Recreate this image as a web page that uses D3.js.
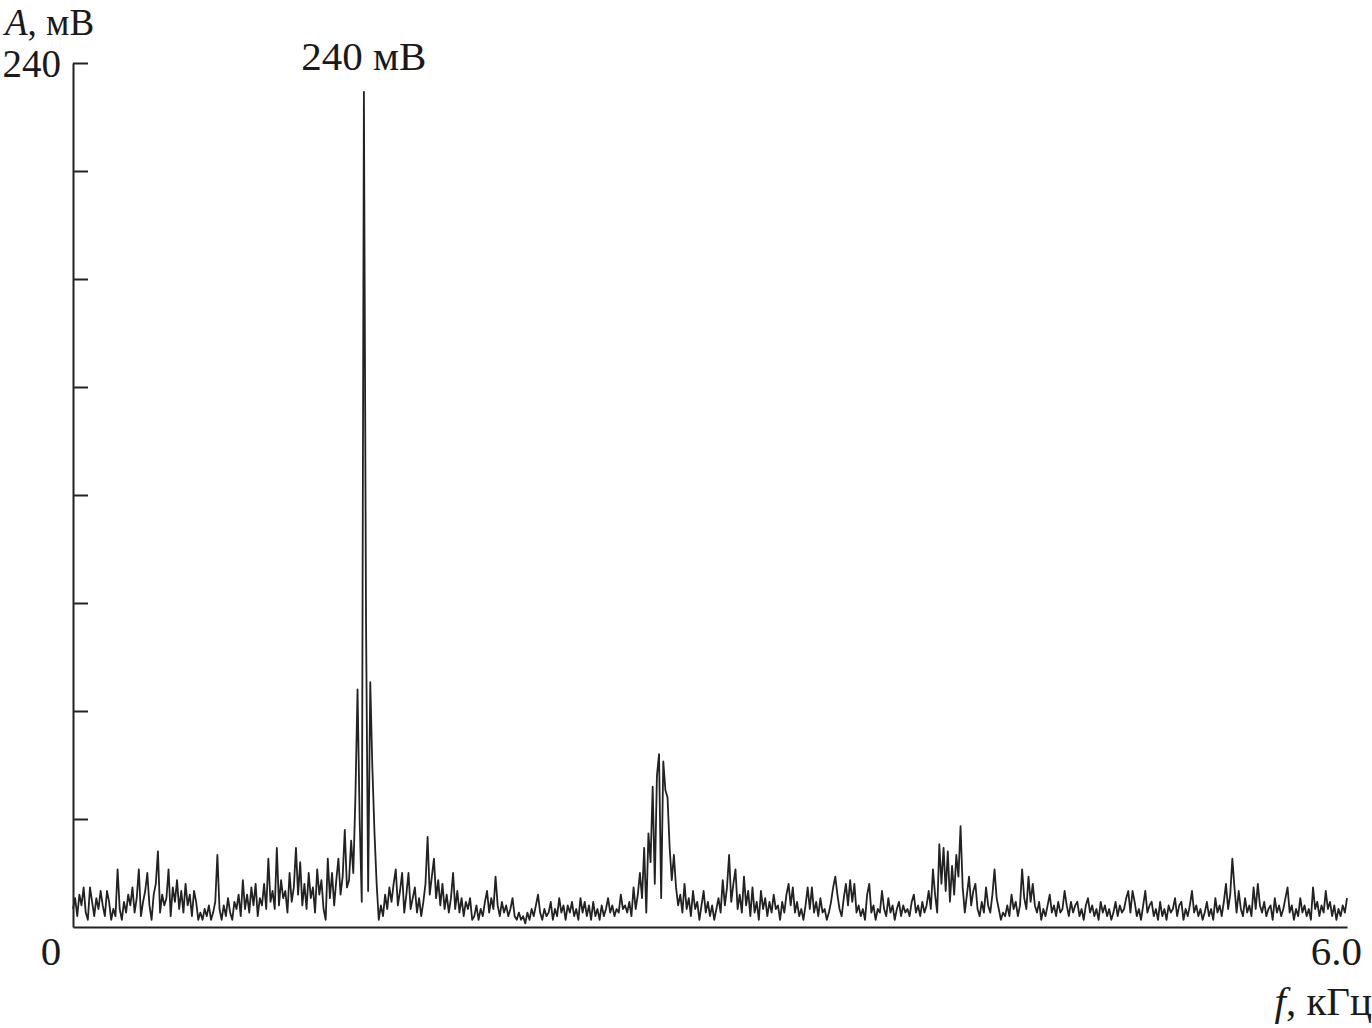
<!DOCTYPE html>
<html>
<head>
<meta charset="utf-8">
<script src="https://cdn.jsdelivr.net/npm/d3@7"></script>
<style>
  body { margin: 0; background: #fff; }
  svg text { font-family: "Liberation Serif", "Times New Roman", serif; fill: #1a1a1a; }
</style>
</head>
<body>
<div id="chart"></div>
<script>
// data: amplitude spectrum, mV, one value every 0.01 kHz from 0 to 6.0 kHz
var fStep = 0.01;
var amplitude = [
  5, 8, 3, 9, 6, 11, 4, 2, 11, 7, 3, 8, 5, 10, 6, 3, 10, 7, 2, 5,
  3, 16, 5, 2, 7, 4, 9, 6, 11, 4, 8, 16, 3, 7, 10, 15, 6, 2, 9, 12,
  21, 4, 9, 6, 8, 16, 3, 11, 7, 13, 5, 10, 4, 12, 6, 9, 3, 10, 7, 2,
  4, 2, 5, 3, 6, 2, 4, 7, 20, 5, 2, 6, 3, 8, 4, 2, 7, 5, 9, 3,
  13, 5, 9, 4, 11, 6, 12, 3, 8, 6, 12, 5, 19, 7, 10, 5, 22, 6, 13, 8,
  10, 4, 15, 7, 11, 22, 9, 18, 6, 12, 5, 15, 8, 11, 4, 16, 9, 13, 5, 2,
  19, 8, 15, 6, 13, 19, 9, 14, 27, 11, 13, 24, 15, 36, 66, 30, 7, 232, 85, 10,
  68, 44, 26, 12, 2, 6, 3, 9, 5, 11, 7, 12, 16, 6, 10, 15, 4, 9, 15, 5,
  8, 11, 4, 8, 3, 7, 12, 25, 9, 14, 19, 8, 13, 6, 12, 5, 9, 4, 8, 15,
  5, 10, 4, 8, 3, 7, 5, 8, 2, 3, 6, 2, 5, 3, 7, 10, 4, 8, 5, 14,
  6, 3, 7, 4, 6, 3, 5, 8, 3, 2, 4, 2, 3, 1, 4, 2, 5, 3, 6, 9,
  4, 2, 5, 3, 4, 7, 2, 5, 3, 8, 4, 6, 2, 6, 4, 7, 3, 5, 2, 8,
  4, 7, 3, 6, 2, 7, 3, 5, 2, 6, 3, 5, 8, 4, 6, 3, 5, 4, 9, 5,
  6, 4, 7, 3, 11, 5, 9, 15, 8, 22, 4, 26, 18, 39, 12, 42, 48, 8, 46, 38,
  36, 22, 13, 20, 11, 6, 9, 4, 12, 5, 8, 3, 10, 5, 7, 2, 6, 10, 4, 7,
  3, 6, 2, 5, 8, 4, 13, 6, 11, 20, 7, 12, 16, 5, 9, 4, 14, 6, 10, 3,
  11, 4, 7, 2, 10, 5, 8, 3, 7, 4, 9, 5, 6, 2, 7, 4, 9, 12, 6, 11,
  4, 7, 3, 5, 2, 6, 11, 5, 11, 4, 7, 3, 8, 4, 5, 2, 4, 7, 11, 14,
  9, 5, 3, 8, 12, 6, 13, 7, 12, 4, 6, 3, 5, 2, 9, 12, 4, 6, 2, 5,
  4, 10, 5, 3, 8, 4, 6, 2, 5, 7, 3, 6, 4, 5, 3, 7, 9, 4, 6, 3,
  7, 4, 6, 10, 5, 16, 9, 4, 23, 12, 22, 10, 21, 7, 17, 9, 20, 14, 28, 11,
  4, 9, 14, 6, 10, 12, 5, 3, 7, 4, 11, 6, 4, 9, 16, 8, 5, 2, 4, 3,
  6, 3, 9, 5, 7, 3, 6, 16, 8, 5, 14, 7, 12, 6, 4, 7, 2, 5, 3, 6,
  9, 4, 6, 3, 7, 4, 5, 10, 6, 3, 7, 4, 6, 7, 3, 5, 2, 6, 8, 4,
  6, 3, 5, 2, 7, 4, 6, 3, 5, 2, 4, 7, 3, 6, 4, 5, 8, 10, 4, 10,
  7, 3, 5, 2, 6, 10, 4, 6, 7, 3, 5, 2, 7, 3, 5, 2, 6, 4, 5, 8,
  3, 6, 7, 2, 5, 3, 6, 10, 4, 6, 3, 5, 2, 4, 7, 3, 5, 2, 8, 4,
  6, 3, 7, 12, 5, 9, 19, 11, 4, 10, 5, 3, 8, 4, 6, 3, 11, 5, 12, 6,
  4, 7, 3, 5, 6, 2, 8, 4, 6, 3, 5, 8, 11, 4, 6, 2, 5, 3, 8, 4,
  6, 3, 5, 2, 11, 5, 7, 3, 6, 4, 10, 5, 7, 3, 6, 2, 5, 3, 6, 4,
  8
];

// axis values
var yDomain = [ 0, 240 ];
var xDomain = [ 0, 6.0 ];
var yTicks = [ 0, 30, 60, 90, 120, 150, 180, 210, 240 ];

// labels
var yLabelVar = 'A';
var yLabelUnit = ', мВ';
var xLabelVar = 'f';
var xLabelUnit = ', кГц';
var peakNote = '240 мВ';

var margin = { left: 73, top: 63, right: 25, bottom: 101 };
var width = 1372;
var height = 1028;

var svg = d3.select( '#chart' )
            .append( 'svg' )
            .attr( 'width', width )
            .attr( 'height', height );

var x = d3.scaleLinear()
          .domain( xDomain )
          .range( [ margin.left, width - margin.right ] );

var y = d3.scaleLinear()
          .domain( yDomain )
          .range( [ height - margin.bottom, margin.top ] );

// spectrum line
var line = d3.line()
             .x( function( d, i ) { return x( i * fStep ); } )
             .y( function( d ) { return y( d ); } );

svg.append( 'path' )
   .datum( amplitude )
   .attr( 'fill', 'none' )
   .attr( 'stroke', '#222' )
   .attr( 'stroke-width', 1.8 )
   .attr( 'stroke-linejoin', 'round' )
   .attr( 'd', line );

// x axis: plain line
var xAxis = svg.append( 'g' )
   .attr( 'transform', 'translate(0,' + y( 0 ) + ')' )
   .call( d3.axisBottom( x ).tickValues( [] ).tickSizeOuter( 0 ) );
xAxis.select( '.domain' ).attr( 'stroke', '#222' ).attr( 'stroke-width', 2 );

// y axis: ticks pointing inward
var yAxis = svg.append( 'g' )
   .attr( 'transform', 'translate(' + x( 0 ) + ',0)' )
   .call( d3.axisRight( y ).tickValues( yTicks ).tickSize( 15 ).tickSizeOuter( 0 ).tickFormat( '' ) );
yAxis.select( '.domain' ).attr( 'stroke', '#222' ).attr( 'stroke-width', 2 );
yAxis.selectAll( '.tick line' ).attr( 'stroke', '#222' ).attr( 'stroke-width', 2 );
yAxis.selectAll( '.tick' ).filter( function( d ) { return d === 0; } ).remove();

var fontSize = 41;
var cornerSize = 37;

// y label
var yl = svg.append( 'text' )
   .attr( 'x', 5 )
   .attr( 'y', 35 )
   .attr( 'font-size', cornerSize );
yl.append( 'tspan' ).attr( 'font-style', 'italic' ).text( yLabelVar );
yl.append( 'tspan' ).text( yLabelUnit );

svg.append( 'text' )
   .attr( 'x', x( 0 ) - 12 )
   .attr( 'y', y( 240 ) + 14 )
   .attr( 'text-anchor', 'end' )
   .attr( 'font-size', 39 )
   .text( '240' );

svg.append( 'text' )
   .attr( 'x', x( 0 ) - 22 )
   .attr( 'y', y( 0 ) + 38 )
   .attr( 'text-anchor', 'middle' )
   .attr( 'font-size', fontSize )
   .text( '0' );

svg.append( 'text' )
   .attr( 'x', x( 6.0 ) + 15 )
   .attr( 'y', y( 0 ) + 38 )
   .attr( 'text-anchor', 'end' )
   .attr( 'font-size', fontSize )
   .text( '6.0' );

// x label
var xl = svg.append( 'text' )
   .attr( 'x', width )
   .attr( 'y', y( 0 ) + 88 )
   .attr( 'text-anchor', 'end' )
   .attr( 'font-size', fontSize );
xl.append( 'tspan' ).attr( 'font-style', 'italic' ).text( xLabelVar );
xl.append( 'tspan' ).text( xLabelUnit );

// peak annotation
svg.append( 'text' )
   .attr( 'x', x( 1.37 ) )
   .attr( 'y', 70 )
   .attr( 'text-anchor', 'middle' )
   .attr( 'font-size', fontSize )
   .text( peakNote );
</script>
</body>
</html>
